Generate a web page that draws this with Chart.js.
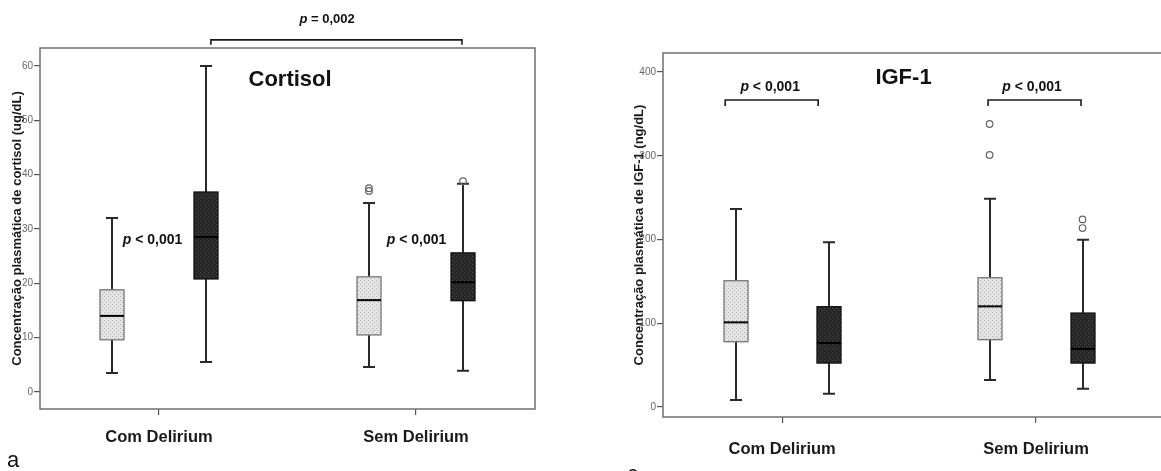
<!DOCTYPE html>
<html>
<head>
<meta charset="utf-8">
<script src="https://cdn.jsdelivr.net/npm/chart.js@4.4.1/dist/chart.umd.min.js"></script>
<style>
  html, body { margin: 0; padding: 0; background: #fff; overflow: hidden; }
  body { width: 1161px; height: 471px; position: relative; font-family: Arial, 'Liberation Sans', sans-serif; }
  #wrapA { position: absolute; left: 0; top: 0; width: 580px; height: 471px; }
  #wrapB { position: absolute; left: 580px; top: 0; width: 620px; height: 471px; }
  .tag { position: absolute; font-size: 22px; color: #111; line-height: 1; }
</style>
</head>
<body>
<div id="wrapA"><canvas id="cortisol" width="580" height="471"></canvas></div>
<div id="wrapB"><canvas id="igf" width="620" height="471"></canvas></div>
<div class="tag" style="left:7px;top:449px">a</div>
<div class="tag" style="left:627px;top:463px">c</div>
<script>
// categorias do eixo x
const categorias = ['Com Delirium', 'Sem Delirium'];

// cortisol (ug/dL): [min, Q1, mediana, Q3, max] por categoria
const cortisolClaro = [[3.5, 9.6, 14.0, 18.8, 32.0], [4.6, 10.5, 16.9, 21.2, 34.8]];
const cortisolEscuro = [[5.5, 20.8, 28.5, 36.8, 60.0], [3.9, 16.8, 20.2, 25.6, 38.3]];
const cortisolForaClaro = [[], [37.0, 37.5]];
const cortisolForaEscuro = [[], [38.8]];
const cortisolTicks = [0, 10, 20, 30, 40, 50, 60];

// IGF-1 (ng/dL)
const igfClaro = [[8.4, 78.0, 101.1, 150.8, 236.4], [32.2, 80.4, 120.2, 154.4, 248.8]];
const igfEscuro = [[15.9, 52.5, 76.4, 119.8, 196.6], [21.9, 52.5, 69.3, 112.2, 199.8]];
const igfForaClaro = [[], [300.9, 337.9]];
const igfForaEscuro = [[], [213.7, 224.0]];
const igfTicks = [0, 100, 200, 300, 400];

// deslocamento das caixas em relação ao centro da categoria (unidades do eixo x)
const DESLOC = 0.183;
const MEIA_CAIXA = 12;   // px
const MEIA_HASTE = 6;    // px
const FONTE = "Arial, 'Liberation Sans', sans-serif";

function ladrilho(base, ponto) {
  const c = document.createElement('canvas');
  c.width = 4; c.height = 4;
  const g = c.getContext('2d');
  g.fillStyle = base; g.fillRect(0, 0, 4, 4);
  g.fillStyle = ponto; g.fillRect(0, 0, 1, 1); g.fillRect(2, 2, 1, 1);
  return c;
}

// moldura em volta da área do gráfico
const moldura = {
  id: 'moldura',
  beforeDatasetsDraw(chart) {
    const { ctx, chartArea: a } = chart;
    ctx.save();
    ctx.strokeStyle = '#707070';
    ctx.lineWidth = 1.5;
    ctx.strokeRect(a.left, a.top, a.right - a.left, a.bottom - a.top);
    ctx.restore();
  }
};

// caixas e hastes (boxplot) a partir das séries
const caixas = {
  id: 'caixas',
  beforeDatasetsDraw(chart, args, opts) {
    const { ctx, scales: { x, y } } = chart;
    const padroes = [
      ctx.createPattern(ladrilho('#e4e4e4', '#b0b0b0'), 'repeat'),
      ctx.createPattern(ladrilho('#262626', '#4c4c4c'), 'repeat')
    ];
    const bordas = ['#777', '#111'];
    opts.series.forEach((serie, si) => {
      serie.data.forEach((b, i) => {
        const cx = Math.round(x.getPixelForValue(i + 1 + serie.desloc));
        const [mn, q1, md, q3, mx] = b.map(v => y.getPixelForValue(v));
        ctx.save();
        ctx.strokeStyle = '#2a2a2a';
        ctx.lineWidth = 2;
        ctx.beginPath();
        ctx.moveTo(cx, mx); ctx.lineTo(cx, q3);
        ctx.moveTo(cx, q1); ctx.lineTo(cx, mn);
        ctx.moveTo(cx - MEIA_HASTE, mx); ctx.lineTo(cx + MEIA_HASTE, mx);
        ctx.moveTo(cx - MEIA_HASTE, mn); ctx.lineTo(cx + MEIA_HASTE, mn);
        ctx.stroke();
        ctx.fillStyle = padroes[si];
        ctx.fillRect(cx - MEIA_CAIXA, q3, 2 * MEIA_CAIXA, q1 - q3);
        ctx.strokeStyle = bordas[si];
        ctx.lineWidth = 1.3;
        ctx.strokeRect(cx - MEIA_CAIXA, q3, 2 * MEIA_CAIXA, q1 - q3);
        ctx.strokeStyle = '#000';
        ctx.lineWidth = 2;
        ctx.beginPath();
        ctx.moveTo(cx - MEIA_CAIXA, md); ctx.lineTo(cx + MEIA_CAIXA, md);
        ctx.stroke();
        ctx.restore();
      });
    });
  }
};

// textos e colchetes de significância
const anotacoes = {
  id: 'anotacoes',
  afterDraw(chart, args, opts) {
    const { ctx, scales: { x, y } } = chart;
    ctx.save();
    ctx.strokeStyle = '#1a1a1a';
    ctx.lineWidth = 1.6;
    (opts.colchetes || []).forEach(c => {
      const x1 = x.getPixelForValue(c.x1), x2 = x.getPixelForValue(c.x2);
      const yt = y.getPixelForValue(c.y), yb = y.getPixelForValue(c.base);
      ctx.beginPath();
      ctx.moveTo(x1, yb); ctx.lineTo(x1, yt); ctx.lineTo(x2, yt); ctx.lineTo(x2, yb);
      ctx.stroke();
    });
    ctx.fillStyle = '#111';
    ctx.textBaseline = 'middle';
    ctx.textAlign = 'left';
    (opts.textos || []).forEach(t => {
      const fontes = t.partes.map(p => (p.it ? 'italic ' : '') + 'bold ' + t.size + 'px ' + FONTE);
      let total = 0;
      t.partes.forEach((p, k) => { ctx.font = fontes[k]; total += ctx.measureText(p.t).width; });
      let px = x.getPixelForValue(t.x) - total / 2;
      const py = y.getPixelForValue(t.y);
      t.partes.forEach((p, k) => {
        ctx.font = fontes[k];
        ctx.fillText(p.t, px, py);
        px += ctx.measureText(p.t).width;
      });
    });
    ctx.restore();
  }
};

function pontosFora(lista, desloc) {
  const pts = [];
  lista.forEach((vals, i) => vals.forEach(v => pts.push({ x: i + 1 + desloc, y: v })));
  return pts;
}

function criarGrafico(id, cfg) {
  const outlier = {
    type: 'scatter',
    pointRadius: 3.3,
    pointBorderWidth: 1.2,
    borderColor: '#666',
    backgroundColor: 'rgba(255,255,255,0)'
  };
  return new Chart(document.getElementById(id), {
    type: 'scatter',
    data: {
      datasets: [
        Object.assign({ label: 'fora claro', data: pontosFora(cfg.foraClaro, -DESLOC) }, outlier),
        Object.assign({ label: 'fora escuro', data: pontosFora(cfg.foraEscuro, DESLOC) }, outlier)
      ]
    },
    options: {
      responsive: false,
      animation: false,
      events: [],
      layout: { padding: cfg.padding },
      plugins: {
        legend: { display: false },
        tooltip: { enabled: false },
        caixas: { series: [
          { data: cfg.claro, desloc: -DESLOC },
          { data: cfg.escuro, desloc: DESLOC }
        ] },
        anotacoes: { textos: cfg.textos, colchetes: cfg.colchetes }
      },
      scales: {
        x: {
          type: 'linear',
          min: cfg.xMin,
          max: cfg.xMax,
          afterBuildTicks: s => { s.ticks = categorias.map((c, i) => ({ value: i + 1 })); },
          afterFit: s => { s.height = cfg.alturaX; },
          ticks: {
            callback: (v, i) => categorias[i],
            autoSkip: false,
            maxRotation: 0,
            padding: cfg.padX,
            color: '#1a1a1a',
            font: { family: FONTE, size: 16.5, weight: 'bold' }
          },
          grid: { drawOnChartArea: false, drawTicks: true, tickLength: 6, color: '#555', lineWidth: 1.2 },
          border: { display: false }
        },
        y: {
          min: cfg.yMin,
          max: cfg.yMax,
          afterBuildTicks: s => { s.ticks = cfg.ticks.map(v => ({ value: v })); },
          afterFit: s => { s.width = cfg.larguraY; },
          ticks: { padding: 1, color: '#666', font: { family: FONTE, size: 10 } },
          grid: { drawOnChartArea: false, drawTicks: true, tickLength: 6, color: '#555', lineWidth: 1.2 },
          border: { display: false },
          title: {
            display: true,
            text: cfg.tituloY,
            color: '#1a1a1a',
            padding: { top: cfg.padTitulo, bottom: 0 },
            font: { family: FONTE, size: 13, weight: 'bold' }
          }
        }
      }
    },
    plugins: [moldura, caixas, anotacoes]
  });
}

const pMenor = [{ t: 'p', it: true }, { t: ' < 0,001' }];

criarGrafico('cortisol', {
  claro: cortisolClaro, escuro: cortisolEscuro,
  foraClaro: cortisolForaClaro, foraEscuro: cortisolForaEscuro,
  ticks: cortisolTicks,
  xMin: 0.537, xMax: 2.463, yMin: -3.13, yMax: 63.3,
  padding: { top: 48, right: 45, bottom: 0, left: 0 },
  larguraY: 40, alturaX: 62, padX: 13, padTitulo: 10,
  tituloY: 'Concentração plasmática de cortisol (ug/dL)',
  textos: [
    { partes: [{ t: 'Cortisol' }], x: 1.51, y: 57.4, size: 22 },
    { partes: pMenor, x: 0.975, y: 28.0, size: 14 },
    { partes: pMenor, x: 2.002, y: 28.0, size: 14 },
    { partes: [{ t: 'p', it: true }, { t: ' = 0,002' }], x: 1.654, y: 68.5, size: 13 }
  ],
  colchetes: [{ x1: 1.202, x2: 2.179, y: 64.8, base: 63.9 }]
});

criarGrafico('igf', {
  claro: igfClaro, escuro: igfEscuro,
  foraClaro: igfForaClaro, foraEscuro: igfForaEscuro,
  ticks: igfTicks,
  xMin: 0.531, xMax: 2.547, yMin: -11.9, yMax: 422.7,
  padding: { top: 53, right: 25, bottom: 0, left: 0 },
  larguraY: 83, alturaX: 54, padX: 17, padTitulo: 52,
  tituloY: 'Concentração plasmática de IGF-1 (ng/dL)',
  textos: [
    { partes: [{ t: 'IGF-1' }], x: 1.478, y: 393.4, size: 22 },
    { partes: pMenor, x: 0.953, y: 382, size: 14 },
    { partes: pMenor, x: 1.984, y: 382, size: 14 }
  ],
  colchetes: [
    { x1: 0.776, x2: 1.142, y: 366.6, base: 359.4 },
    { x1: 1.811, x2: 2.177, y: 366.6, base: 359.4 }
  ]
});
</script>
</body>
</html>
